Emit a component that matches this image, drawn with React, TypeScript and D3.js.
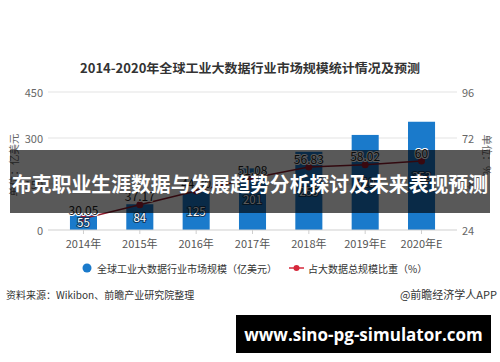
import React from "react";
import * as d3 from "d3";

const categories = ["2014年", "2015年", "2016年", "2017年", "2018年", "2019年E", "2020年E"];
const marketSize = [55, 84, 125, 201, 255, 310, 353];
const shareRatio = [30.05, 37.17, 44.3, 51.08, 56.83, 58.02, 60];
const leftTicks = [0, 150, 300, 450];
const rightTicks = [24, 48, 72, 96];

const W = 500;
const H = 362;
const FONT = '"Noto Sans CJK SC", "Noto Sans", sans-serif';

export default function App() {
  const x = d3.scaleBand<string>().domain(categories).range([55.3, 449.7]).paddingInner(0.52).paddingOuter(0.26);
  const yL = d3.scaleLinear().domain([0, 450]).range([230, 92]);
  const yR = d3.scaleLinear().domain([24, 96]).range([230, 92]);
  const bw = x.bandwidth();
  const cx = (c: string) => (x(c) ?? 0) + bw / 2;

  const line = d3
    .line<number>()
    .x((_, i) => cx(categories[i]))
    .y((d) => yR(d));

  return (
    <svg width={W} height={H} style={{ position: "absolute", left: 0, top: 0, background: "#fff" }} fontFamily={FONT}>
      <rect x={0} y={0} width={W} height={H} fill="#fff" />
      <text x={250} y={67} textAnchor="middle" dominantBaseline="central" fontSize={12.5} fontWeight="bold" fill="#333" textLength={340} lengthAdjust="spacingAndGlyphs">
        2014-2020年全球工业大数据行业市场规模统计情况及预测
      </text>

      {leftTicks.map((t) => (
        <g key={"l" + t}>
          {t > 0 && <line x1={48} x2={457} y1={yL(t)} y2={yL(t)} stroke="#e3e3e3" strokeWidth={1} />}
          <text x={43} y={yL(t)} textAnchor="end" dominantBaseline="central" fontSize={11} fill="#666">
            {t}
          </text>
        </g>
      ))}
      {rightTicks.map((t) => (
        <text key={"r" + t} x={462} y={yR(t)} textAnchor="start" dominantBaseline="central" fontSize={11} fill="#666">
          {t}
        </text>
      ))}
      <text transform="translate(13,165) rotate(-90)" textAnchor="middle" dominantBaseline="central" fontSize={10.5} fill="#666">
        单位：亿美元
      </text>
      <text transform="translate(487,155) rotate(90)" textAnchor="middle" dominantBaseline="central" fontSize={10.5} fill="#666">
        单位：%
      </text>

      {categories.map((c, i) => (
        <rect key={c} x={x(c)} y={yL(marketSize[i])} width={bw} height={yL(0) - yL(marketSize[i])} fill="#1a7acb" />
      ))}

      <line x1={48} x2={457} y1={230} y2={230} stroke="#cfcfcf" strokeWidth={1} />
      {categories.map((c) => (
        <line key={"t" + c} x1={cx(c)} x2={cx(c)} y1={230} y2={234} stroke="#cfcfcf" />
      ))}
      {categories.map((c) => (
        <text key={"x" + c} x={cx(c)} y={243} textAnchor="middle" dominantBaseline="central" fontSize={11} fill="#555">
          {c}
        </text>
      ))}

      <path d={line(shareRatio) ?? ""} fill="none" stroke="#8e1b2c" strokeWidth={1.5} />
      {shareRatio.map((v, i) => (
        <circle key={"p" + i} cx={cx(categories[i])} cy={yR(v)} r={3.5} fill="#a01b2e" />
      ))}

      {marketSize.map((v, i) => (
        <text
          key={"bl" + i}
          x={cx(categories[i])}
          y={(yL(v) + yL(0)) / 2}
          textAnchor="middle"
          dominantBaseline="central"
          fontSize={11.5}
          fill="#fff"
          stroke="#123a60"
          strokeWidth={2}
          paintOrder="stroke"
        >
          {v}
        </text>
      ))}
      {shareRatio.map((v, i) => (
        <text
          key={"ll" + i}
          x={cx(categories[i])}
          y={yR(v) - 9}
          textAnchor="middle"
          dominantBaseline="central"
          fontSize={12}
          fill="#222"
          stroke="#fff"
          strokeWidth={2}
          paintOrder="stroke"
        >
          {v.toFixed(2).replace(/\.00$/, "")}
        </text>
      ))}

      <circle cx={87} cy={268} r={4.5} fill="#1a7acb" />
      <text x={97} y={268} dominantBaseline="central" fontSize={10} fill="#333">
        全球工业大数据行业市场规模（亿美元）
      </text>
      <line x1={289} x2={304} y1={268} y2={268} stroke="#d6283b" strokeWidth={1.5} />
      <circle cx={296.5} cy={268} r={3} fill="#d6283b" />
      <text x={308} y={268} dominantBaseline="central" fontSize={10} fill="#333">
        占大数据总规模比重（%）
      </text>

      <text x={6} y={294} dominantBaseline="central" fontSize={10} fill="#333">
        资料来源：Wikibon、前瞻产业研究院整理
      </text>
      <text x={497} y={294} textAnchor="end" dominantBaseline="central" fontSize={11} fill="#333">
        @前瞻经济学人APP
      </text>

      <rect x={10} y={150} width={480} height={63} fill="rgba(0,0,0,0.65)" />
      <text x={250} y={183} textAnchor="middle" dominantBaseline="central" fontSize={20} fontWeight="bold" fill="#fff" textLength={476} lengthAdjust="spacingAndGlyphs">
        布克职业生涯数据与发展趋势分析探讨及未来表现预测
      </text>

      <rect x={236} y={315} width={255} height={38} fill="#000" />
      <text x={363.5} y={334} textAnchor="middle" dominantBaseline="central" fontSize={17} fontWeight="bold" fill="#fff" fontFamily='"Open Sans", "DejaVu Sans", sans-serif'>
        www.sino-pg-simulator.com
      </text>
    </svg>
  );
}
